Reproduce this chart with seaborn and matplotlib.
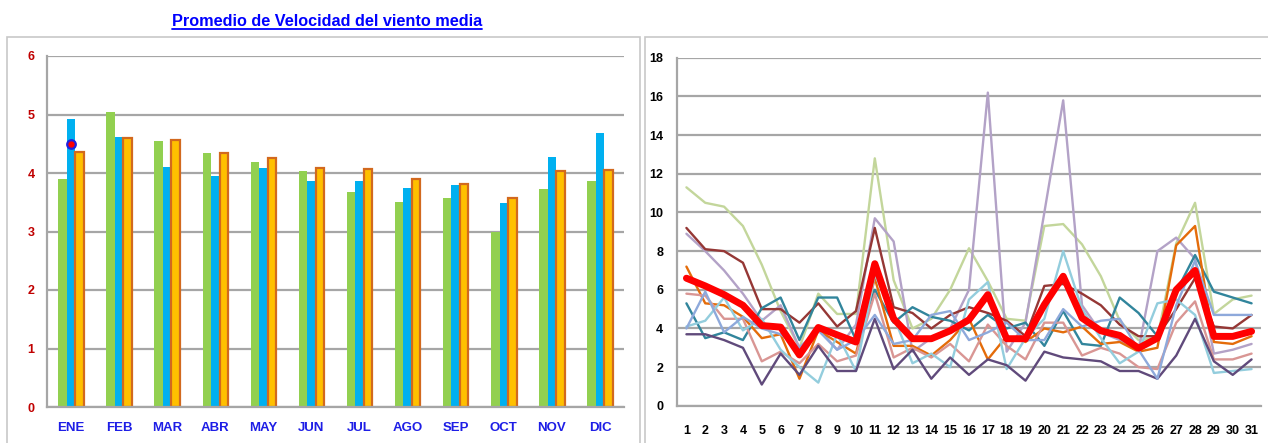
import numpy as np
import pandas as pd
import matplotlib
matplotlib.use("Agg")
import matplotlib.pyplot as plt
import seaborn as sns
from matplotlib import font_manager
from matplotlib.lines import Line2D
from matplotlib.patches import Rectangle

# ---------------- data: left chart ----------------
meses = ["ENE", "FEB", "MAR", "ABR", "MAY", "JUN", "JUL", "AGO", "SEP", "OCT", "NOV", "DIC"]
serie_verde = [3.89, 5.04, 4.54, 4.35, 4.18, 4.04, 3.67, 3.50, 3.57, 3.00, 3.73, 3.87]
serie_azul = [4.93, 4.62, 4.10, 3.95, 4.08, 3.87, 3.87, 3.75, 3.79, 3.48, 4.27, 4.68]
serie_naranja = [4.36, 4.59, 4.56, 4.34, 4.25, 4.09, 4.06, 3.90, 3.82, 3.57, 4.03, 4.05]
punto_mes = "ENE"
punto_valor = 4.5

# ---------------- data: right chart ----------------
dias = list(range(1, 32))
linea_verde = [11.3, 10.5, 10.3, 9.3, 7.3, 4.9, 3.0, 5.8, 4.75, 4.75, 12.8, 6.5, 4.0, 4.5, 6.0, 8.15,
               6.45, 4.5, 4.4, 9.3, 9.4, 8.35, 6.7, 4.4, 3.4, 3.5, 8.4, 10.5, 4.75, 5.5, 5.7]
linea_lavanda = [8.9, 8.0, 7.0, 5.8, 4.4, 5.2, 3.0, 4.0, 2.9, 4.2, 9.7, 8.5, 2.8, 3.5, 4.0, 6.0,
                 16.2, 2.8, 4.3, 10.0, 15.8, 5.2, 3.8, 3.4, 2.9, 8.0, 8.7, 7.6, 2.7, 2.9, 3.2]
linea_granate = [9.2, 8.1, 8.0, 7.4, 5.0, 5.0, 4.3, 5.3, 4.1, 4.9, 9.2, 5.1, 4.8, 4.0, 4.7, 5.1,
                 4.8, 4.4, 3.6, 6.2, 6.3, 5.8, 5.2, 4.2, 3.6, 3.6, 5.0, 6.6, 4.1, 4.0, 4.7]
linea_turquesa = [5.3, 3.5, 3.8, 3.4, 5.05, 5.6, 3.4, 5.6, 5.6, 3.4, 6.0, 4.3, 5.1, 4.6, 4.4, 3.9,
                  4.7, 4.0, 4.3, 3.1, 4.9, 3.2, 3.1, 5.6, 4.8, 3.6, 5.9, 7.8, 5.9, 5.6, 5.3]
linea_naranja = [7.2, 5.3, 5.2, 4.6, 3.5, 3.7, 1.4, 3.9, 3.3, 2.7, 6.6, 3.1, 3.1, 2.6, 3.4, 4.5,
                 2.4, 3.6, 3.3, 4.0, 3.8, 4.1, 3.2, 3.3, 2.8, 3.0, 8.3, 9.3, 3.3, 3.2, 3.6]
linea_salmon = [5.8, 5.7, 4.5, 4.5, 2.3, 2.8, 2.2, 3.2, 2.3, 2.6, 5.8, 2.5, 3.0, 2.5, 3.2, 2.3,
                4.2, 3.1, 2.4, 4.3, 4.3, 2.6, 3.0, 2.7, 2.0, 1.9, 4.3, 5.4, 2.4, 2.4, 2.7]
linea_celeste = [4.1, 4.4, 5.6, 3.9, 4.5, 2.9, 2.0, 1.2, 3.7, 1.8, 6.8, 4.6, 2.2, 2.7, 2.0, 5.5,
                 6.4, 1.9, 3.5, 4.5, 8.0, 5.0, 3.5, 2.2, 2.8, 5.3, 5.5, 4.7, 1.7, 1.8, 1.9]
linea_morado = [3.7, 3.7, 3.4, 3.0, 1.1, 2.7, 1.6, 3.1, 1.8, 1.8, 4.5, 1.9, 2.9, 1.4, 2.5, 1.6,
                2.4, 2.1, 1.3, 2.8, 2.5, 2.4, 2.3, 1.8, 1.8, 1.4, 2.6, 4.5, 2.3, 1.6, 2.4]
linea_azulado = [4.0, 5.9, 3.8, 4.6, 4.0, 3.7, 3.0, 3.9, 2.9, 3.4, 4.7, 3.2, 3.4, 4.7, 4.9, 3.4,
                 3.8, 4.3, 3.4, 3.4, 5.0, 4.1, 4.4, 4.5, 2.9, 1.4, 5.2, 7.5, 4.7, 4.7, 4.7]
linea_promedio = [6.6, 6.2, 5.75, 5.2, 4.15, 4.07, 2.63, 4.05, 3.67, 3.3, 7.35, 4.5, 3.47, 3.47,
                  3.88, 4.45, 5.75, 3.47, 3.47, 5.23, 6.7, 4.54, 3.88, 3.64, 2.98, 3.5, 6.0, 7.0,
                  3.59, 3.59, 3.85]

# ---------------- style ----------------
sns.set_style("white")
avail = {f.name for f in font_manager.fontManager.ttflist}
base_font = "Liberation Sans" if "Liberation Sans" in avail else "DejaVu Sans"
narrow_font = "Liberation Sans Narrow" if "Liberation Sans Narrow" in avail else base_font
plt.rcParams["font.family"] = [base_font, "DejaVu Sans"]

GRID = "#A6A6A6"
FRAME = "#C8C8C8"

fig = plt.figure(figsize=(12.68, 4.43), dpi=100)

# panel frames
fig.add_artist(Rectangle((7 / 1268, -0.01), (640 - 7) / 1268, (443 - 37) / 443 + 0.01,
                         transform=fig.transFigure, fill=False, edgecolor=FRAME, linewidth=1.2))
fig.add_artist(Rectangle((645 / 1268, -0.01), (1275 - 645) / 1268, (443 - 37) / 443 + 0.01,
                         transform=fig.transFigure, fill=False, edgecolor=FRAME, linewidth=1.2))

# ---------------- left chart ----------------
ax1 = fig.add_axes([47 / 1268, (443 - 407) / 443, (624 - 47) / 1268, (407 - 56) / 443])
df_bar = pd.DataFrame({
    "mes": meses * 3,
    "valor": serie_verde + serie_azul + serie_naranja,
    "serie": ["verde"] * 12 + ["azul"] * 12 + ["naranja"] * 12,
})
sns.barplot(data=df_bar, x="mes", y="valor", hue="serie", order=meses,
            hue_order=["verde", "azul", "naranja"],
            palette=["#92D050", "#00B0F0", "#FFC000"], width=0.53, saturation=1,
            legend=False, ax=ax1, linewidth=0)
for p in ax1.containers[2]:
    p.set_edgecolor("#D2691E")
    p.set_linewidth(1.6)
ax1.scatter([meses.index(punto_mes)], [punto_valor], s=38, color="#FF0000",
            edgecolor="#2020E0", linewidth=1.6, zorder=5)
ax1.set_ylim(0, 6)
ax1.set_xlim(-0.5, 11.5)
ax1.set_yticks(range(0, 7))
ax1.yaxis.grid(True, color=GRID, linewidth=1.6)
ax1.set_axisbelow(True)
ax1.set_xlabel("")
ax1.set_ylabel("")
for s in ["top", "right"]:
    ax1.spines[s].set_visible(False)
for s in ["left", "bottom"]:
    ax1.spines[s].set_color(GRID)
    ax1.spines[s].set_linewidth(1.6)
ax1.set_xticks(np.arange(-0.5, 12, 1), minor=True)
ax1.tick_params(axis="x", which="major", length=0, pad=11)
ax1.tick_params(axis="x", which="minor", length=4, color=GRID, width=1.3)
ax1.tick_params(axis="y", length=4, color=GRID, width=1.3, pad=5)
for lab in ax1.get_xticklabels():
    lab.set_fontfamily(narrow_font)
    lab.set_fontweight("bold")
    lab.set_fontsize(9.5)
    lab.set_color("#1E1EE6")
for lab in ax1.get_yticklabels():
    lab.set_fontfamily(narrow_font)
    lab.set_fontweight("bold")
    lab.set_fontsize(9)
    lab.set_color("#C00000")

# ---------------- right chart ----------------
ax2 = fig.add_axes([677 / 1268, (443 - 405.8) / 443, (1261 - 677) / 1268, (405.8 - 57.8) / 443])
series = {
    "verde": (linea_verde, "#C3D69B"),
    "lavanda": (linea_lavanda, "#B3A2C7"),
    "granate": (linea_granate, "#953735"),
    "turquesa": (linea_turquesa, "#31859C"),
    "naranja": (linea_naranja, "#E46C0A"),
    "salmon": (linea_salmon, "#D99694"),
    "celeste": (linea_celeste, "#93CDDD"),
    "morado": (linea_morado, "#604A7B"),
    "azulado": (linea_azulado, "#8EA9DB"),
}
df_lines = pd.concat([pd.DataFrame({"dia": dias, "valor": v, "serie": k})
                      for k, (v, c) in series.items()], ignore_index=True)
sns.lineplot(data=df_lines, x="dia", y="valor", hue="serie",
             palette={k: c for k, (v, c) in series.items()},
             linewidth=1.7, legend=False, ax=ax2, estimator=None)
df_prom = pd.DataFrame({"dia": dias, "valor": linea_promedio})
sns.lineplot(data=df_prom, x="dia", y="valor", color="#FF0000", linewidth=5,
             ax=ax2, estimator=None)
ax2.set_xlim(0.5, 31.5)
ax2.set_ylim(0, 18)
ax2.set_yticks(range(0, 19, 2))
ax2.set_xticks(dias)
ax2.set_xticks(np.arange(0.5, 32, 1), minor=True)
ax2.yaxis.grid(True, color=GRID, linewidth=1.6)
ax2.set_axisbelow(True)
ax2.set_xlabel("")
ax2.set_ylabel("")
for s in ["top", "right"]:
    ax2.spines[s].set_visible(False)
for s in ["left", "bottom"]:
    ax2.spines[s].set_color(GRID)
    ax2.spines[s].set_linewidth(1.6)
ax2.tick_params(axis="x", which="major", length=0, pad=14)
ax2.tick_params(axis="x", which="minor", length=4, color=GRID, width=1.3)
ax2.tick_params(axis="y", length=4, color=GRID, width=1.3, pad=6)
for lab in ax2.get_xticklabels() + ax2.get_yticklabels():
    lab.set_fontweight("bold")
    lab.set_fontsize(9)
    lab.set_color("#000000")

# ---------------- title with underline ----------------
title = fig.text(327 / 1268, (443 - 21) / 443, "Promedio de Velocidad del viento media",
                 ha="center", va="center", fontsize=11.7, fontweight="bold", color="#0000FF")
fig.canvas.draw()
bb = title.get_window_extent(renderer=fig.canvas.get_renderer())
uy = (bb.y0 - 0.5) / fig.bbox.height
fig.add_artist(Line2D([bb.x0 / fig.bbox.width, bb.x1 / fig.bbox.width], [uy, uy],
                      transform=fig.transFigure, color="#0000FF", linewidth=1.3))

fig.savefig("out.png", dpi=100)
